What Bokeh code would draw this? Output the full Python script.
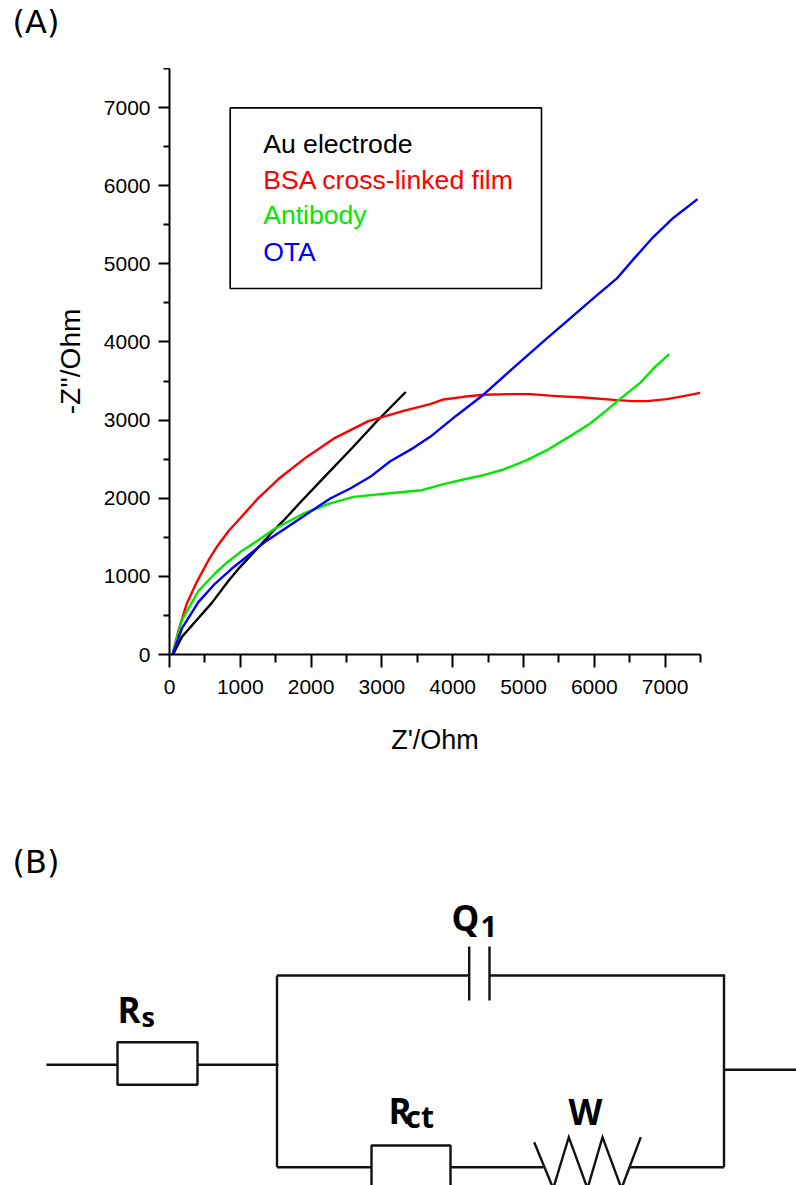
from bokeh.plotting import figure
from bokeh.layouts import column
from bokeh.models import Range1d, FixedTicker
from bokeh.core.properties import value
from bokeh.embed import file_html
from bokeh.resources import INLINE

# ---------- data ----------
au_x = [47, 57, 175, 363, 598, 834, 999, 1305, 1469, 1625, 1846, 2176, 2576, 2929, 3336]
au_y = [0, 13, 226, 420, 661, 943, 1122, 1420, 1585, 1728, 1945, 2260, 2640, 2985, 3360]

bsa_x = [43, 128, 245, 387, 551, 669, 834, 1021, 1233, 1539, 1939, 2339, 2809, 3306, 3682, 3871,
         4153, 4435, 4812, 5094, 5471, 5848, 6319, 6554, 6742, 7025, 7260, 7496]
bsa_y = [4, 311, 653, 930, 1207, 1378, 1580, 1767, 1981, 2246, 2529, 2773, 2987, 3119, 3204, 3264,
         3298, 3325, 3332, 3332, 3307, 3289, 3255, 3243, 3243, 3268, 3307, 3349]

ab_x = [47, 57, 175, 410, 645, 809, 1021, 1234, 1468, 1634, 1894, 2270, 2600, 3071, 3565, 3871,
        4153, 4435, 4718, 5047, 5330, 5659, 5942, 6177, 6342, 6648, 6836, 7058]
ab_y = [0, 55, 439, 815, 1040, 1175, 1326, 1450, 1600, 1680, 1805, 1933, 2018, 2061, 2103, 2180,
        2240, 2295, 2368, 2487, 2615, 2795, 2957, 3127, 3255, 3477, 3661, 3844]

ota_x = [47, 57, 175, 410, 645, 881, 1116, 1352, 1634, 1988, 2270, 2553, 2835, 3118, 3447,
         3682, 4059, 4435, 4953, 5330, 5659, 5989, 6319, 6554, 6836, 7119, 7458]
ota_y = [0, 34, 333, 674, 908, 1100, 1271, 1442, 1612, 1826, 1997, 2124, 2274, 2474, 2645,
         2786, 3063, 3325, 3746, 4045, 4301, 4560, 4813, 5060, 5346, 5590, 5828]

series_names = ["Au electrode", "BSA cross-linked film", "Antibody", "OTA"]
series_colors = ["#000000", "#ff0000", "#00e800", "#0000ff"]

x_ticks = [0, 1000, 2000, 3000, 4000, 5000, 6000, 7000]
y_ticks = [0, 1000, 2000, 3000, 4000, 5000, 6000, 7000]
minor_ticks = [500, 1500, 2500, 3500, 4500, 5500, 6500, 7500]

FONT = "Liberation Sans"

# ---------- header strip with the (A) tag ----------
h = figure(width=796, height=68, output_backend="svg", toolbar_location=None,
           x_range=Range1d(0, 796), y_range=Range1d(68, 0), min_border=0,
           frame_align=False, background_fill_color="white", border_fill_color="white")
h.outline_line_color = None
h.grid.visible = False
h.axis.visible = False
h.text(x=[12], y=[21], text=["(A)"], text_font=value("DejaVu Sans"),
       text_font_size=value("32px"), text_color="black", text_baseline="alphabetic")

# ---------- panel A ----------
p = figure(width=796, height=732, output_backend="svg", toolbar_location=None,
           x_range=Range1d(0, 7500), y_range=Range1d(0, 7500), frame_align=False,
           min_border_left=169, min_border_right=96, min_border_top=0, min_border_bottom=146,
           background_fill_color="white", border_fill_color="white")
p.outline_line_color = None
p.grid.visible = False

for ax, ticks in ((p.xaxis[0], x_ticks), (p.yaxis[0], y_ticks)):
    ax.ticker = FixedTicker(ticks=ticks, minor_ticks=minor_ticks)
    ax.axis_line_color = "black"
    ax.axis_line_width = 2
    ax.major_tick_line_color = "black"
    ax.major_tick_line_width = 2
    ax.minor_tick_line_color = "black"
    ax.minor_tick_line_width = 2
    ax.major_tick_in = 0
    ax.minor_tick_in = 0
    ax.major_label_text_font = FONT
    ax.major_label_text_font_size = "21px"
    ax.major_label_text_color = "black"
    ax.axis_label_text_font = FONT
    ax.axis_label_text_font_style = "normal"
    ax.axis_label_text_color = "black"

p.xaxis[0].major_tick_out = 13
p.xaxis[0].minor_tick_out = 8
p.xaxis[0].major_label_standoff = 12
p.xaxis[0].axis_label = "Z'/Ohm"
p.xaxis[0].axis_label_text_font_size = "27px"
p.xaxis[0].axis_label_standoff = 28

p.yaxis[0].major_tick_out = 11
p.yaxis[0].minor_tick_out = 6
p.yaxis[0].major_label_standoff = 8
p.yaxis[0].axis_label = "-Z''/Ohm"
p.yaxis[0].axis_label_text_font_size = "28px"
p.yaxis[0].axis_label_standoff = 15

curves = [(au_x, au_y), (bsa_x, bsa_y), (ab_x, ab_y), (ota_x, ota_y)]
for (cx, cy), c in zip(curves, series_colors):
    p.line(cx, cy, line_color=c, line_width=2.4, line_join="round")

# legend box and its coloured entries
p.quad(left=[857], right=[5254], bottom=[4684], top=[6996], fill_color="white",
       line_color="black", line_width=1.6, level="underlay")
legend_y = [6540, 6071, 5623, 5154]
p.text(x=[1323] * 4, y=legend_y, text=series_names, text_color=series_colors,
       text_font=value(FONT), text_font_size=value("26.6px"), text_baseline="alphabetic")

# ---------- panel B: circuit drawn in page-like units ----------
q = figure(width=796, height=385, output_backend="svg", toolbar_location=None,
           x_range=Range1d(0, 796), y_range=Range1d(1185, 800), frame_align=False,
           min_border=0, background_fill_color="white", border_fill_color="white")
q.outline_line_color = None
q.grid.visible = False
q.axis.visible = False

wires_x = [[46, 117], [197, 278], [276.5, 276.5], [276.5, 468.7], [468.7, 468.7], [489, 489],
           [489, 723.5, 723.5], [723.5, 796], [276.5, 371], [450, 543], [629, 723.5]]
wires_y = [[1064.3, 1064.3], [1064.3, 1064.3], [975, 1166.7], [975, 975], [946, 1000], [946, 1000],
           [975, 975, 1166.7], [1069.3, 1069.3], [1166.7, 1166.7], [1166.7, 1166.7], [1166.7, 1166.7]]
q.multi_line(wires_x, wires_y, line_color="#111111", line_width=2.4, line_join="miter")
q.quad(left=[117, 371], right=[197, 450], top=[1041.7, 1145], bottom=[1084.3, 1195],
       fill_color=None, line_color="#111111", line_width=2.4)
q.line([533.7, 552.7, 568.3, 587, 602, 621, 640.3],
       [1141.7, 1188, 1136.7, 1188, 1136.7, 1188, 1136.7],
       line_color="#111111", line_width=2.4, line_join="miter")

BOLD = value("Open Sans")
labels = [(117, 1008.5, "R", "35px"), (141, 1016, "s", "27px"),
          (451, 917, "Q", "35px"), (480, 926, "1", "29px"),
          (388, 1110, "R", "35px"), (405, 1115.5, "ct", "30px"),
          (568, 1111, "W", "35px")]
for lx, ly, lt, ls in labels:
    q.text(x=[lx], y=[ly], text=[lt], text_font=BOLD, text_font_style="bold",
           text_font_size=value(ls), text_color="black", text_baseline="alphabetic")
q.text(x=[12], y=[861], text=["(B)"], text_font=value("DejaVu Sans"),
       text_font_size=value("32px"), text_color="black", text_baseline="alphabetic")

page = column(h, p, q, spacing=0)
open("out.html", "w").write(file_html(page, INLINE))
